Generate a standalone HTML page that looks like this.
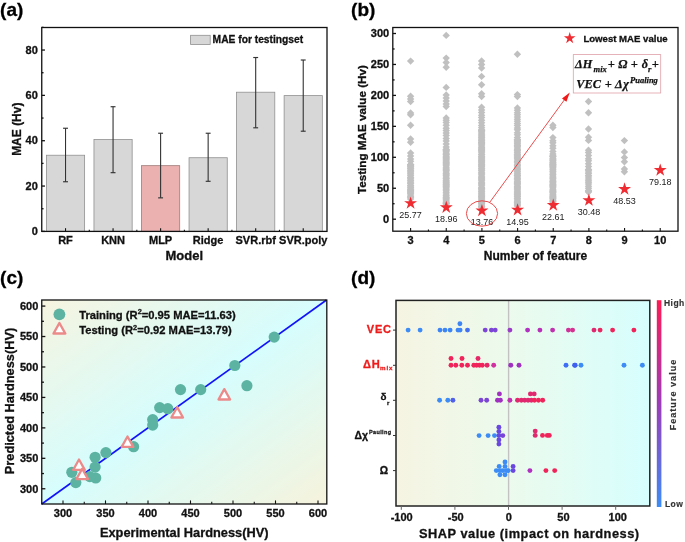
<!DOCTYPE html>
<html><head><meta charset="utf-8"><style>
html,body{margin:0;padding:0;background:#fff;}
svg{display:block;will-change:transform;}
</style></head><body>
<svg width="685" height="542" viewBox="0 0 685 542">
<rect width="685" height="542" fill="#fff"/>
<text x="0.1" y="283.5" font-size="19" text-anchor="start" font-weight="bold" fill="#000" stroke="#000" stroke-width="0.3" font-family='"Liberation Sans", sans-serif' >(c)</text>
<defs><linearGradient id="gc" x1="0" y1="0" x2="1" y2="1"><stop offset="0" stop-color="#f6f4e0"/><stop offset="0.5" stop-color="#d6fdfd"/><stop offset="1" stop-color="#f6f3dc"/></linearGradient><linearGradient id="gd" x1="0" y1="0" x2="1" y2="0"><stop offset="0" stop-color="#f6f4e2"/><stop offset="0.5" stop-color="#eafbee"/><stop offset="1" stop-color="#d6fefe"/></linearGradient><linearGradient id="cb" x1="0" y1="0" x2="0" y2="1"><stop offset="0" stop-color="#ff1a55"/><stop offset="0.5" stop-color="#9c3cb8"/><stop offset="1" stop-color="#3d8cf6"/></linearGradient></defs>
<rect x="41.75" y="300.0" width="285.05" height="204.0" fill="url(#gc)"/>
<line x1="41.75" y1="504.00" x2="326.50" y2="299.99" stroke="#1212fa" stroke-width="1.65"/>
<g fill="#5cb3a1">
<circle cx="274.2" cy="337.1" r="5.6"/>
<circle cx="234.8" cy="365.5" r="5.6"/>
<circle cx="246.9" cy="385.7" r="5.6"/>
<circle cx="200.7" cy="389.6" r="5.6"/>
<circle cx="180.5" cy="389.6" r="5.6"/>
<circle cx="159.7" cy="407.6" r="5.6"/>
<circle cx="167.8" cy="408.7" r="5.6"/>
<circle cx="152.7" cy="419.6" r="5.6"/>
<circle cx="152.7" cy="425.1" r="5.6"/>
<circle cx="133.6" cy="446.7" r="5.6"/>
<circle cx="105.9" cy="452.6" r="5.6"/>
<circle cx="95.1" cy="457.3" r="5.6"/>
<circle cx="95.1" cy="467.1" r="5.6"/>
<circle cx="95.7" cy="478" r="5.6"/>
<circle cx="89.8" cy="476.6" r="5.6"/>
<circle cx="71.8" cy="472.3" r="5.6"/>
<circle cx="75.8" cy="482.6" r="5.6"/>
</g>
<path d="M224.30 389.10 L230.10 399.50 L218.50 399.50 Z" fill="#fff" stroke="#ec8a8a" stroke-width="2.3" stroke-linejoin="round"/>
<path d="M177.20 407.10 L183.00 417.50 L171.40 417.50 Z" fill="#fff" stroke="#ec8a8a" stroke-width="2.3" stroke-linejoin="round"/>
<path d="M127.50 436.50 L133.30 446.90 L121.70 446.90 Z" fill="#fff" stroke="#ec8a8a" stroke-width="2.3" stroke-linejoin="round"/>
<path d="M79.00 459.50 L84.80 469.90 L73.20 469.90 Z" fill="#fff" stroke="#ec8a8a" stroke-width="2.3" stroke-linejoin="round"/>
<path d="M82.20 468.70 L88.00 479.10 L76.40 479.10 Z" fill="#fff" stroke="#ec8a8a" stroke-width="2.3" stroke-linejoin="round"/>
<circle cx="59.4" cy="314.3" r="5.9" fill="#5cb3a1"/>
<path d="M59.4 323.0 L65.3 333.5 L53.5 333.5 Z" fill="#fff" stroke="#ec8a8a" stroke-width="2.4" stroke-linejoin="round"/>
<text x="79.2" y="318.9" font-size="11.2" text-anchor="start" font-weight="bold" fill="#111" stroke="#111" stroke-width="0.3" font-family='"Liberation Sans", sans-serif' >Training (R<tspan font-size="7.4" dy="-4.6">2</tspan><tspan dy="4.6">=0.95 MAE=11.63)</tspan></text>
<text x="79.2" y="334.2" font-size="11.2" text-anchor="start" font-weight="bold" fill="#111" stroke="#111" stroke-width="0.3" font-family='"Liberation Sans", sans-serif' >Testing (R<tspan font-size="7.4" dy="-4.6">2</tspan><tspan dy="4.6">=0.92 MAE=13.79)</tspan></text>
<rect x="41.75" y="300.0" width="285.05" height="204.0" fill="none" stroke="#111" stroke-width="1.3"/>
<line x1="41.75" y1="488.77" x2="45.35" y2="488.77" stroke="#111" stroke-width="1.3"/>
<line x1="63.00" y1="504.0" x2="63.00" y2="500.4" stroke="#111" stroke-width="1.1"/>
<text x="38.3" y="492.67" font-size="11" text-anchor="end" font-weight="bold" fill="#111" stroke="#111" stroke-width="0.3" font-family='"Liberation Sans", sans-serif' >300</text>
<text x="63.00" y="517.0" font-size="11" text-anchor="middle" font-weight="bold" fill="#111" stroke="#111" stroke-width="0.3" font-family='"Liberation Sans", sans-serif' >300</text>
<line x1="41.75" y1="473.55" x2="43.95" y2="473.55" stroke="#111" stroke-width="1.3"/>
<line x1="84.25" y1="504.0" x2="84.25" y2="501.8" stroke="#111" stroke-width="1.1"/>
<line x1="41.75" y1="458.32" x2="45.35" y2="458.32" stroke="#111" stroke-width="1.3"/>
<line x1="105.50" y1="504.0" x2="105.50" y2="500.4" stroke="#111" stroke-width="1.1"/>
<text x="38.3" y="462.22" font-size="11" text-anchor="end" font-weight="bold" fill="#111" stroke="#111" stroke-width="0.3" font-family='"Liberation Sans", sans-serif' >350</text>
<text x="105.50" y="517.0" font-size="11" text-anchor="middle" font-weight="bold" fill="#111" stroke="#111" stroke-width="0.3" font-family='"Liberation Sans", sans-serif' >350</text>
<line x1="41.75" y1="443.10" x2="43.95" y2="443.10" stroke="#111" stroke-width="1.3"/>
<line x1="126.75" y1="504.0" x2="126.75" y2="501.8" stroke="#111" stroke-width="1.1"/>
<line x1="41.75" y1="427.88" x2="45.35" y2="427.88" stroke="#111" stroke-width="1.3"/>
<line x1="148.00" y1="504.0" x2="148.00" y2="500.4" stroke="#111" stroke-width="1.1"/>
<text x="38.3" y="431.77" font-size="11" text-anchor="end" font-weight="bold" fill="#111" stroke="#111" stroke-width="0.3" font-family='"Liberation Sans", sans-serif' >400</text>
<text x="148.00" y="517.0" font-size="11" text-anchor="middle" font-weight="bold" fill="#111" stroke="#111" stroke-width="0.3" font-family='"Liberation Sans", sans-serif' >400</text>
<line x1="41.75" y1="412.65" x2="43.95" y2="412.65" stroke="#111" stroke-width="1.3"/>
<line x1="169.25" y1="504.0" x2="169.25" y2="501.8" stroke="#111" stroke-width="1.1"/>
<line x1="41.75" y1="397.43" x2="45.35" y2="397.43" stroke="#111" stroke-width="1.3"/>
<line x1="190.50" y1="504.0" x2="190.50" y2="500.4" stroke="#111" stroke-width="1.1"/>
<text x="38.3" y="401.32" font-size="11" text-anchor="end" font-weight="bold" fill="#111" stroke="#111" stroke-width="0.3" font-family='"Liberation Sans", sans-serif' >450</text>
<text x="190.50" y="517.0" font-size="11" text-anchor="middle" font-weight="bold" fill="#111" stroke="#111" stroke-width="0.3" font-family='"Liberation Sans", sans-serif' >450</text>
<line x1="41.75" y1="382.20" x2="43.95" y2="382.20" stroke="#111" stroke-width="1.3"/>
<line x1="211.75" y1="504.0" x2="211.75" y2="501.8" stroke="#111" stroke-width="1.1"/>
<line x1="41.75" y1="366.98" x2="45.35" y2="366.98" stroke="#111" stroke-width="1.3"/>
<line x1="233.00" y1="504.0" x2="233.00" y2="500.4" stroke="#111" stroke-width="1.1"/>
<text x="38.3" y="370.88" font-size="11" text-anchor="end" font-weight="bold" fill="#111" stroke="#111" stroke-width="0.3" font-family='"Liberation Sans", sans-serif' >500</text>
<text x="233.00" y="517.0" font-size="11" text-anchor="middle" font-weight="bold" fill="#111" stroke="#111" stroke-width="0.3" font-family='"Liberation Sans", sans-serif' >500</text>
<line x1="41.75" y1="351.75" x2="43.95" y2="351.75" stroke="#111" stroke-width="1.3"/>
<line x1="254.25" y1="504.0" x2="254.25" y2="501.8" stroke="#111" stroke-width="1.1"/>
<line x1="41.75" y1="336.52" x2="45.35" y2="336.52" stroke="#111" stroke-width="1.3"/>
<line x1="275.50" y1="504.0" x2="275.50" y2="500.4" stroke="#111" stroke-width="1.1"/>
<text x="38.3" y="340.42" font-size="11" text-anchor="end" font-weight="bold" fill="#111" stroke="#111" stroke-width="0.3" font-family='"Liberation Sans", sans-serif' >550</text>
<text x="275.50" y="517.0" font-size="11" text-anchor="middle" font-weight="bold" fill="#111" stroke="#111" stroke-width="0.3" font-family='"Liberation Sans", sans-serif' >550</text>
<line x1="41.75" y1="321.30" x2="43.95" y2="321.30" stroke="#111" stroke-width="1.3"/>
<line x1="296.75" y1="504.0" x2="296.75" y2="501.8" stroke="#111" stroke-width="1.1"/>
<line x1="41.75" y1="306.08" x2="45.35" y2="306.08" stroke="#111" stroke-width="1.3"/>
<line x1="318.00" y1="504.0" x2="318.00" y2="500.4" stroke="#111" stroke-width="1.1"/>
<text x="38.3" y="309.98" font-size="11" text-anchor="end" font-weight="bold" fill="#111" stroke="#111" stroke-width="0.3" font-family='"Liberation Sans", sans-serif' >600</text>
<text x="318.00" y="517.0" font-size="11" text-anchor="middle" font-weight="bold" fill="#111" stroke="#111" stroke-width="0.3" font-family='"Liberation Sans", sans-serif' >600</text>
<text x="184.2" y="537.4" font-size="12.8" text-anchor="middle" font-weight="bold" fill="#111" stroke="#111" stroke-width="0.3" font-family='"Liberation Sans", sans-serif' >Experimental Hardness(HV)</text>
<text x="0" y="0" font-size="12.8" text-anchor="middle" font-weight="bold" fill="#111" stroke="#111" stroke-width="0.3" font-family='"Liberation Sans", sans-serif' transform="translate(14,401) rotate(-90)">Predicted Hardness(HV)</text>
<text x="0.1" y="15.5" font-size="19" text-anchor="start" font-weight="bold" fill="#000" stroke="#000" stroke-width="0.3" font-family='"Liberation Sans", sans-serif' >(a)</text>
<rect x="46.42" y="155.23" width="38.2" height="76.17" fill="#d7d7d7" stroke="#909090" stroke-width="0.8"/>
<line x1="65.52" y1="128.25" x2="65.52" y2="181.75" stroke="#333" stroke-width="1.1"/>
<line x1="63.07" y1="181.75" x2="67.97" y2="181.75" stroke="#333" stroke-width="1.15"/>
<line x1="63.07" y1="128.25" x2="67.97" y2="128.25" stroke="#333" stroke-width="1.15"/>
<text x="65.52" y="244.2" font-size="11" text-anchor="middle" font-weight="bold" fill="#111" stroke="#111" stroke-width="0.3" font-family='"Liberation Sans", sans-serif' >RF</text>
<rect x="93.96" y="139.59" width="38.2" height="91.81" fill="#d7d7d7" stroke="#909090" stroke-width="0.8"/>
<line x1="113.06" y1="106.72" x2="113.06" y2="172.68" stroke="#333" stroke-width="1.1"/>
<line x1="110.61" y1="172.68" x2="115.51" y2="172.68" stroke="#333" stroke-width="1.15"/>
<line x1="110.61" y1="106.72" x2="115.51" y2="106.72" stroke="#333" stroke-width="1.15"/>
<text x="113.06" y="244.2" font-size="11" text-anchor="middle" font-weight="bold" fill="#111" stroke="#111" stroke-width="0.3" font-family='"Liberation Sans", sans-serif' >KNN</text>
<rect x="141.50" y="165.66" width="38.2" height="65.74" fill="#ebb1b1" stroke="#a07a7a" stroke-width="0.8"/>
<line x1="160.60" y1="133.24" x2="160.60" y2="197.85" stroke="#333" stroke-width="1.1"/>
<line x1="158.15" y1="197.85" x2="163.05" y2="197.85" stroke="#333" stroke-width="1.15"/>
<line x1="158.15" y1="133.24" x2="163.05" y2="133.24" stroke="#333" stroke-width="1.15"/>
<text x="160.60" y="244.2" font-size="11" text-anchor="middle" font-weight="bold" fill="#111" stroke="#111" stroke-width="0.3" font-family='"Liberation Sans", sans-serif' >MLP</text>
<rect x="189.05" y="157.72" width="38.2" height="73.68" fill="#d7d7d7" stroke="#909090" stroke-width="0.8"/>
<line x1="208.15" y1="133.24" x2="208.15" y2="181.30" stroke="#333" stroke-width="1.1"/>
<line x1="205.70" y1="181.30" x2="210.60" y2="181.30" stroke="#333" stroke-width="1.15"/>
<line x1="205.70" y1="133.24" x2="210.60" y2="133.24" stroke="#333" stroke-width="1.15"/>
<text x="208.15" y="244.2" font-size="11" text-anchor="middle" font-weight="bold" fill="#111" stroke="#111" stroke-width="0.3" font-family='"Liberation Sans", sans-serif' >Ridge</text>
<rect x="236.59" y="92.21" width="38.2" height="139.19" fill="#d7d7d7" stroke="#909090" stroke-width="0.8"/>
<line x1="255.69" y1="57.52" x2="255.69" y2="127.80" stroke="#333" stroke-width="1.1"/>
<line x1="253.24" y1="127.80" x2="258.14" y2="127.80" stroke="#333" stroke-width="1.15"/>
<line x1="253.24" y1="57.52" x2="258.14" y2="57.52" stroke="#333" stroke-width="1.15"/>
<text x="255.69" y="244.2" font-size="11" text-anchor="middle" font-weight="bold" fill="#111" stroke="#111" stroke-width="0.3" font-family='"Liberation Sans", sans-serif' >SVR.rbf</text>
<rect x="284.13" y="95.61" width="38.2" height="135.79" fill="#d7d7d7" stroke="#909090" stroke-width="0.8"/>
<line x1="303.23" y1="60.01" x2="303.23" y2="131.20" stroke="#333" stroke-width="1.1"/>
<line x1="300.78" y1="131.20" x2="305.68" y2="131.20" stroke="#333" stroke-width="1.15"/>
<line x1="300.78" y1="60.01" x2="305.68" y2="60.01" stroke="#333" stroke-width="1.15"/>
<text x="303.23" y="244.2" font-size="11" text-anchor="middle" font-weight="bold" fill="#111" stroke="#111" stroke-width="0.3" font-family='"Liberation Sans", sans-serif' >SVR.poly</text>
<rect x="41.75" y="27.5" width="285.25" height="203.9" fill="none" stroke="#111" stroke-width="1.3"/>
<line x1="41.75" y1="231.40" x2="44.95" y2="231.40" stroke="#111" stroke-width="1.3"/>
<text x="37.8" y="235.00" font-size="11" text-anchor="end" font-weight="bold" fill="#111" stroke="#111" stroke-width="0.3" font-family='"Liberation Sans", sans-serif' >0</text>
<line x1="41.75" y1="208.73" x2="43.55" y2="208.73" stroke="#111" stroke-width="1.3"/>
<line x1="41.75" y1="186.06" x2="44.95" y2="186.06" stroke="#111" stroke-width="1.3"/>
<text x="37.8" y="189.66" font-size="11" text-anchor="end" font-weight="bold" fill="#111" stroke="#111" stroke-width="0.3" font-family='"Liberation Sans", sans-serif' >20</text>
<line x1="41.75" y1="163.39" x2="43.55" y2="163.39" stroke="#111" stroke-width="1.3"/>
<line x1="41.75" y1="140.72" x2="44.95" y2="140.72" stroke="#111" stroke-width="1.3"/>
<text x="37.8" y="144.32" font-size="11" text-anchor="end" font-weight="bold" fill="#111" stroke="#111" stroke-width="0.3" font-family='"Liberation Sans", sans-serif' >40</text>
<line x1="41.75" y1="118.05" x2="43.55" y2="118.05" stroke="#111" stroke-width="1.3"/>
<line x1="41.75" y1="95.38" x2="44.95" y2="95.38" stroke="#111" stroke-width="1.3"/>
<text x="37.8" y="98.98" font-size="11" text-anchor="end" font-weight="bold" fill="#111" stroke="#111" stroke-width="0.3" font-family='"Liberation Sans", sans-serif' >60</text>
<line x1="41.75" y1="72.71" x2="43.55" y2="72.71" stroke="#111" stroke-width="1.3"/>
<line x1="41.75" y1="50.04" x2="44.95" y2="50.04" stroke="#111" stroke-width="1.3"/>
<text x="37.8" y="53.64" font-size="11" text-anchor="end" font-weight="bold" fill="#111" stroke="#111" stroke-width="0.3" font-family='"Liberation Sans", sans-serif' >80</text>
<line x1="41.75" y1="27.37" x2="43.55" y2="27.37" stroke="#111" stroke-width="1.3"/>
<line x1="89.29" y1="231.4" x2="89.29" y2="229.8" stroke="#111" stroke-width="1.1"/>
<line x1="136.83" y1="231.4" x2="136.83" y2="229.8" stroke="#111" stroke-width="1.1"/>
<line x1="184.38" y1="231.4" x2="184.38" y2="229.8" stroke="#111" stroke-width="1.1"/>
<line x1="231.92" y1="231.4" x2="231.92" y2="229.8" stroke="#111" stroke-width="1.1"/>
<line x1="279.46" y1="231.4" x2="279.46" y2="229.8" stroke="#111" stroke-width="1.1"/>
<line x1="65.52" y1="231.4" x2="65.52" y2="228.20000000000002" stroke="#111" stroke-width="1.1"/>
<line x1="113.06" y1="231.4" x2="113.06" y2="228.20000000000002" stroke="#111" stroke-width="1.1"/>
<line x1="160.60" y1="231.4" x2="160.60" y2="228.20000000000002" stroke="#111" stroke-width="1.1"/>
<line x1="208.15" y1="231.4" x2="208.15" y2="228.20000000000002" stroke="#111" stroke-width="1.1"/>
<line x1="255.69" y1="231.4" x2="255.69" y2="228.20000000000002" stroke="#111" stroke-width="1.1"/>
<line x1="303.23" y1="231.4" x2="303.23" y2="228.20000000000002" stroke="#111" stroke-width="1.1"/>
<rect x="190.6" y="35.3" width="19.6" height="9.2" fill="#d7d7d7" stroke="#909090" stroke-width="0.8"/>
<text x="212.6" y="43.4" font-size="10.25" text-anchor="start" font-weight="bold" fill="#111" stroke="#111" stroke-width="0.3" font-family='"Liberation Sans", sans-serif' >MAE for testingset</text>
<text x="184.25" y="260" font-size="13" text-anchor="middle" font-weight="bold" fill="#111" stroke="#111" stroke-width="0.3" font-family='"Liberation Sans", sans-serif' >Model</text>
<text x="0" y="0" font-size="12" text-anchor="middle" font-weight="bold" fill="#111" stroke="#111" stroke-width="0.3" font-family='"Liberation Sans", sans-serif' transform="translate(20.9,129.2) rotate(-90)">MAE (Hv)</text>
<text x="351.1" y="15.5" font-size="19" text-anchor="start" font-weight="bold" fill="#000" stroke="#000" stroke-width="0.3" font-family='"Liberation Sans", sans-serif' >(b)</text>
<g fill="#c0c0c0">
<path d="M410.60 57.40L414.30 61.10L410.60 64.80L406.90 61.10Z"/>
<path d="M410.60 92.60L414.30 96.30L410.60 100.00L406.90 96.30Z"/>
<path d="M410.60 95.30L414.30 99.00L410.60 102.70L406.90 99.00Z"/>
<path d="M410.60 97.80L414.30 101.50L410.60 105.20L406.90 101.50Z"/>
<path d="M410.60 109.20L414.30 112.90L410.60 116.60L406.90 112.90Z"/>
<path d="M410.60 111.10L414.30 114.80L410.60 118.50L406.90 114.80Z"/>
<path d="M410.60 121.50L414.30 125.20L410.60 128.90L406.90 125.20Z"/>
<path d="M410.60 135.30L414.30 139.00L410.60 142.70L406.90 139.00Z"/>
<path d="M410.60 138.50L414.30 142.20L410.60 145.90L406.90 142.20Z"/>
<path d="M410.60 149.30L414.30 153.00L410.60 156.70L406.90 153.00Z"/>
<path d="M410.60 152.21L414.30 155.91L410.60 159.61L406.90 155.91Z"/>
<path d="M410.60 155.25L414.30 158.95L410.60 162.65L406.90 158.95Z"/>
<path d="M410.60 157.63L414.30 161.33L410.60 165.03L406.90 161.33Z"/>
<path d="M410.60 160.83L414.30 164.53L410.60 168.23L406.90 164.53Z"/>
<path d="M410.60 161.30L414.30 165.00L410.60 168.70L406.90 165.00Z"/>
<path d="M410.60 161.30L414.30 165.00L410.60 168.70L406.90 165.00Z"/>
<path d="M410.60 162.57L414.30 166.27L410.60 169.97L406.90 166.27Z"/>
<path d="M410.60 163.26L414.30 166.96L410.60 170.66L406.90 166.96Z"/>
<path d="M410.60 164.62L414.30 168.32L410.60 172.02L406.90 168.32Z"/>
<path d="M410.60 165.37L414.30 169.07L410.60 172.77L406.90 169.07Z"/>
<path d="M410.60 166.68L414.30 170.38L410.60 174.08L406.90 170.38Z"/>
<path d="M410.60 168.00L414.30 171.70L410.60 175.40L406.90 171.70Z"/>
<path d="M410.60 169.37L414.30 173.07L410.60 176.77L406.90 173.07Z"/>
<path d="M410.60 170.41L414.30 174.11L410.60 177.81L406.90 174.11Z"/>
<path d="M410.60 171.88L414.30 175.58L410.60 179.28L406.90 175.58Z"/>
<path d="M410.60 173.46L414.30 177.16L410.60 180.86L406.90 177.16Z"/>
<path d="M410.60 174.18L414.30 177.88L410.60 181.58L406.90 177.88Z"/>
<path d="M410.60 175.30L414.30 179.00L410.60 182.70L406.90 179.00Z"/>
<path d="M410.60 176.85L414.30 180.55L410.60 184.25L406.90 180.55Z"/>
<path d="M410.60 178.19L414.30 181.89L410.60 185.59L406.90 181.89Z"/>
<path d="M410.60 179.24L414.30 182.94L410.60 186.64L406.90 182.94Z"/>
<path d="M410.60 180.14L414.30 183.84L410.60 187.54L406.90 183.84Z"/>
<path d="M410.60 181.70L414.30 185.40L410.60 189.10L406.90 185.40Z"/>
<path d="M410.60 182.38L414.30 186.08L410.60 189.78L406.90 186.08Z"/>
<path d="M410.60 183.74L414.30 187.44L410.60 191.14L406.90 187.44Z"/>
<path d="M410.60 185.18L414.30 188.88L410.60 192.58L406.90 188.88Z"/>
<path d="M410.60 185.94L414.30 189.64L410.60 193.34L406.90 189.64Z"/>
<path d="M410.60 186.87L414.30 190.57L410.60 194.27L406.90 190.57Z"/>
<path d="M410.60 187.77L414.30 191.47L410.60 195.17L406.90 191.47Z"/>
<path d="M410.60 188.92L414.30 192.62L410.60 196.32L406.90 192.62Z"/>
<path d="M410.60 189.88L414.30 193.58L410.60 197.28L406.90 193.58Z"/>
<path d="M410.60 191.38L414.30 195.08L410.60 198.78L406.90 195.08Z"/>
<path d="M410.60 192.90L414.30 196.60L410.60 200.30L406.90 196.60Z"/>
<path d="M410.60 193.82L414.30 197.52L410.60 201.22L406.90 197.52Z"/>
<path d="M410.60 195.30L414.30 199.00L410.60 202.70L406.90 199.00Z"/>
<path d="M446.20 31.70L449.90 35.40L446.20 39.10L442.50 35.40Z"/>
<path d="M446.20 54.40L449.90 58.10L446.20 61.80L442.50 58.10Z"/>
<path d="M446.20 58.80L449.90 62.50L446.20 66.20L442.50 62.50Z"/>
<path d="M446.20 63.50L449.90 67.20L446.20 70.90L442.50 67.20Z"/>
<path d="M446.20 83.70L449.90 87.40L446.20 91.10L442.50 87.40Z"/>
<path d="M446.20 91.30L449.90 95.00L446.20 98.70L442.50 95.00Z"/>
<path d="M446.20 94.30L449.90 98.00L446.20 101.70L442.50 98.00Z"/>
<path d="M446.20 97.30L449.90 101.00L446.20 104.70L442.50 101.00Z"/>
<path d="M446.20 100.30L449.90 104.00L446.20 107.70L442.50 104.00Z"/>
<path d="M446.20 102.80L449.90 106.50L446.20 110.20L442.50 106.50Z"/>
<path d="M446.20 114.30L449.90 118.00L446.20 121.70L442.50 118.00Z"/>
<path d="M446.20 116.51L449.90 120.21L446.20 123.91L442.50 120.21Z"/>
<path d="M446.20 118.85L449.90 122.55L446.20 126.25L442.50 122.55Z"/>
<path d="M446.20 121.52L449.90 125.22L446.20 128.92L442.50 125.22Z"/>
<path d="M446.20 124.54L449.90 128.24L446.20 131.94L442.50 128.24Z"/>
<path d="M446.20 126.91L449.90 130.61L446.20 134.31L442.50 130.61Z"/>
<path d="M446.20 129.24L449.90 132.94L446.20 136.64L442.50 132.94Z"/>
<path d="M446.20 131.72L449.90 135.42L446.20 139.12L442.50 135.42Z"/>
<path d="M446.20 134.83L449.90 138.53L446.20 142.23L442.50 138.53Z"/>
<path d="M446.20 137.21L449.90 140.91L446.20 144.61L442.50 140.91Z"/>
<path d="M446.20 140.30L449.90 144.00L446.20 147.70L442.50 144.00Z"/>
<path d="M446.20 143.29L449.90 146.99L446.20 150.69L442.50 146.99Z"/>
<path d="M446.20 145.65L449.90 149.35L446.20 153.05L442.50 149.35Z"/>
<path d="M446.20 146.30L449.90 150.00L446.20 153.70L442.50 150.00Z"/>
<path d="M446.20 146.30L449.90 150.00L446.20 153.70L442.50 150.00Z"/>
<path d="M446.20 147.35L449.90 151.05L446.20 154.75L442.50 151.05Z"/>
<path d="M446.20 148.36L449.90 152.06L446.20 155.76L442.50 152.06Z"/>
<path d="M446.20 149.96L449.90 153.66L446.20 157.36L442.50 153.66Z"/>
<path d="M446.20 150.65L449.90 154.35L446.20 158.05L442.50 154.35Z"/>
<path d="M446.20 151.27L449.90 154.97L446.20 158.67L442.50 154.97Z"/>
<path d="M446.20 152.81L449.90 156.51L446.20 160.21L442.50 156.51Z"/>
<path d="M446.20 153.81L449.90 157.51L446.20 161.21L442.50 157.51Z"/>
<path d="M446.20 154.61L449.90 158.31L446.20 162.01L442.50 158.31Z"/>
<path d="M446.20 155.54L449.90 159.24L446.20 162.94L442.50 159.24Z"/>
<path d="M446.20 156.51L449.90 160.21L446.20 163.91L442.50 160.21Z"/>
<path d="M446.20 158.06L449.90 161.76L446.20 165.46L442.50 161.76Z"/>
<path d="M446.20 158.87L449.90 162.57L446.20 166.27L442.50 162.57Z"/>
<path d="M446.20 159.69L449.90 163.39L446.20 167.09L442.50 163.39Z"/>
<path d="M446.20 160.87L449.90 164.57L446.20 168.27L442.50 164.57Z"/>
<path d="M446.20 162.02L449.90 165.72L446.20 169.42L442.50 165.72Z"/>
<path d="M446.20 163.57L449.90 167.27L446.20 170.97L442.50 167.27Z"/>
<path d="M446.20 165.01L449.90 168.71L446.20 172.41L442.50 168.71Z"/>
<path d="M446.20 165.97L449.90 169.67L446.20 173.37L442.50 169.67Z"/>
<path d="M446.20 166.77L449.90 170.47L446.20 174.17L442.50 170.47Z"/>
<path d="M446.20 168.21L449.90 171.91L446.20 175.61L442.50 171.91Z"/>
<path d="M446.20 169.80L449.90 173.50L446.20 177.20L442.50 173.50Z"/>
<path d="M446.20 170.43L449.90 174.13L446.20 177.83L442.50 174.13Z"/>
<path d="M446.20 171.76L449.90 175.46L446.20 179.16L442.50 175.46Z"/>
<path d="M446.20 173.23L449.90 176.93L446.20 180.63L442.50 176.93Z"/>
<path d="M446.20 174.48L449.90 178.18L446.20 181.88L442.50 178.18Z"/>
<path d="M446.20 175.30L449.90 179.00L446.20 182.70L442.50 179.00Z"/>
<path d="M446.20 176.70L449.90 180.40L446.20 184.10L442.50 180.40Z"/>
<path d="M446.20 178.03L449.90 181.73L446.20 185.43L442.50 181.73Z"/>
<path d="M446.20 178.82L449.90 182.52L446.20 186.22L442.50 182.52Z"/>
<path d="M446.20 180.06L449.90 183.76L446.20 187.46L442.50 183.76Z"/>
<path d="M446.20 180.88L449.90 184.58L446.20 188.28L442.50 184.58Z"/>
<path d="M446.20 181.52L449.90 185.22L446.20 188.92L442.50 185.22Z"/>
<path d="M446.20 182.46L449.90 186.16L446.20 189.86L442.50 186.16Z"/>
<path d="M446.20 183.39L449.90 187.09L446.20 190.79L442.50 187.09Z"/>
<path d="M446.20 184.39L449.90 188.09L446.20 191.79L442.50 188.09Z"/>
<path d="M446.20 185.64L449.90 189.34L446.20 193.04L442.50 189.34Z"/>
<path d="M446.20 187.07L449.90 190.77L446.20 194.47L442.50 190.77Z"/>
<path d="M446.20 188.63L449.90 192.33L446.20 196.03L442.50 192.33Z"/>
<path d="M446.20 190.21L449.90 193.91L446.20 197.61L442.50 193.91Z"/>
<path d="M446.20 191.80L449.90 195.50L446.20 199.20L442.50 195.50Z"/>
<path d="M446.20 193.19L449.90 196.89L446.20 200.59L442.50 196.89Z"/>
<path d="M446.20 194.10L449.90 197.80L446.20 201.50L442.50 197.80Z"/>
<path d="M446.20 194.88L449.90 198.58L446.20 202.28L442.50 198.58Z"/>
<path d="M446.20 196.10L449.90 199.80L446.20 203.50L442.50 199.80Z"/>
<path d="M446.20 197.25L449.90 200.95L446.20 204.65L442.50 200.95Z"/>
<path d="M446.20 198.52L449.90 202.22L446.20 205.92L442.50 202.22Z"/>
<path d="M446.20 199.21L449.90 202.91L446.20 206.61L442.50 202.91Z"/>
<path d="M446.20 200.01L449.90 203.71L446.20 207.41L442.50 203.71Z"/>
<path d="M446.20 200.30L449.90 204.00L446.20 207.70L442.50 204.00Z"/>
<path d="M481.60 57.30L485.30 61.00L481.60 64.70L477.90 61.00Z"/>
<path d="M481.60 60.80L485.30 64.50L481.60 68.20L477.90 64.50Z"/>
<path d="M481.60 64.30L485.30 68.00L481.60 71.70L477.90 68.00Z"/>
<path d="M481.60 72.70L485.30 76.40L481.60 80.10L477.90 76.40Z"/>
<path d="M481.60 81.00L485.30 84.70L481.60 88.40L477.90 84.70Z"/>
<path d="M481.60 90.00L485.30 93.70L481.60 97.40L477.90 93.70Z"/>
<path d="M481.60 92.80L485.30 96.50L481.60 100.20L477.90 96.50Z"/>
<path d="M481.60 103.50L485.30 107.20L481.60 110.90L477.90 107.20Z"/>
<path d="M481.60 106.27L485.30 109.97L481.60 113.67L477.90 109.97Z"/>
<path d="M481.60 108.78L485.30 112.48L481.60 116.18L477.90 112.48Z"/>
<path d="M481.60 111.65L485.30 115.35L481.60 119.05L477.90 115.35Z"/>
<path d="M481.60 113.73L485.30 117.43L481.60 121.13L477.90 117.43Z"/>
<path d="M481.60 116.57L485.30 120.27L481.60 123.97L477.90 120.27Z"/>
<path d="M481.60 119.02L485.30 122.72L481.60 126.42L477.90 122.72Z"/>
<path d="M481.60 121.75L485.30 125.45L481.60 129.15L477.90 125.45Z"/>
<path d="M481.60 123.95L485.30 127.65L481.60 131.35L477.90 127.65Z"/>
<path d="M481.60 126.30L485.30 130.00L481.60 133.70L477.90 130.00Z"/>
<path d="M481.60 126.30L485.30 130.00L481.60 133.70L477.90 130.00Z"/>
<path d="M481.60 127.17L485.30 130.87L481.60 134.57L477.90 130.87Z"/>
<path d="M481.60 128.10L485.30 131.80L481.60 135.50L477.90 131.80Z"/>
<path d="M481.60 129.42L485.30 133.12L481.60 136.82L477.90 133.12Z"/>
<path d="M481.60 130.50L485.30 134.20L481.60 137.90L477.90 134.20Z"/>
<path d="M481.60 132.06L485.30 135.76L481.60 139.46L477.90 135.76Z"/>
<path d="M481.60 133.24L485.30 136.94L481.60 140.64L477.90 136.94Z"/>
<path d="M481.60 134.07L485.30 137.77L481.60 141.47L477.90 137.77Z"/>
<path d="M481.60 135.28L485.30 138.98L481.60 142.68L477.90 138.98Z"/>
<path d="M481.60 136.41L485.30 140.11L481.60 143.81L477.90 140.11Z"/>
<path d="M481.60 137.15L485.30 140.85L481.60 144.55L477.90 140.85Z"/>
<path d="M481.60 138.27L485.30 141.97L481.60 145.67L477.90 141.97Z"/>
<path d="M481.60 138.89L485.30 142.59L481.60 146.29L477.90 142.59Z"/>
<path d="M481.60 139.86L485.30 143.56L481.60 147.26L477.90 143.56Z"/>
<path d="M481.60 141.00L485.30 144.70L481.60 148.40L477.90 144.70Z"/>
<path d="M481.60 142.28L485.30 145.98L481.60 149.68L477.90 145.98Z"/>
<path d="M481.60 143.84L485.30 147.54L481.60 151.24L477.90 147.54Z"/>
<path d="M481.60 145.06L485.30 148.76L481.60 152.46L477.90 148.76Z"/>
<path d="M481.60 145.68L485.30 149.38L481.60 153.08L477.90 149.38Z"/>
<path d="M481.60 146.76L485.30 150.46L481.60 154.16L477.90 150.46Z"/>
<path d="M481.60 147.61L485.30 151.31L481.60 155.01L477.90 151.31Z"/>
<path d="M481.60 148.95L485.30 152.65L481.60 156.35L477.90 152.65Z"/>
<path d="M481.60 150.45L485.30 154.15L481.60 157.85L477.90 154.15Z"/>
<path d="M481.60 151.13L485.30 154.83L481.60 158.53L477.90 154.83Z"/>
<path d="M481.60 152.51L485.30 156.21L481.60 159.91L477.90 156.21Z"/>
<path d="M481.60 153.40L485.30 157.10L481.60 160.80L477.90 157.10Z"/>
<path d="M481.60 154.18L485.30 157.88L481.60 161.58L477.90 157.88Z"/>
<path d="M481.60 155.24L485.30 158.94L481.60 162.64L477.90 158.94Z"/>
<path d="M481.60 156.25L485.30 159.95L481.60 163.65L477.90 159.95Z"/>
<path d="M481.60 157.14L485.30 160.84L481.60 164.54L477.90 160.84Z"/>
<path d="M481.60 158.01L485.30 161.71L481.60 165.41L477.90 161.71Z"/>
<path d="M481.60 159.04L485.30 162.74L481.60 166.44L477.90 162.74Z"/>
<path d="M481.60 160.33L485.30 164.03L481.60 167.73L477.90 164.03Z"/>
<path d="M481.60 161.09L485.30 164.79L481.60 168.49L477.90 164.79Z"/>
<path d="M481.60 162.07L485.30 165.77L481.60 169.47L477.90 165.77Z"/>
<path d="M481.60 162.90L485.30 166.60L481.60 170.30L477.90 166.60Z"/>
<path d="M481.60 164.23L485.30 167.93L481.60 171.63L477.90 167.93Z"/>
<path d="M481.60 165.08L485.30 168.78L481.60 172.48L477.90 168.78Z"/>
<path d="M481.60 166.42L485.30 170.12L481.60 173.82L477.90 170.12Z"/>
<path d="M481.60 167.05L485.30 170.75L481.60 174.45L477.90 170.75Z"/>
<path d="M481.60 168.51L485.30 172.21L481.60 175.91L477.90 172.21Z"/>
<path d="M481.60 169.53L485.30 173.23L481.60 176.93L477.90 173.23Z"/>
<path d="M481.60 171.07L485.30 174.77L481.60 178.47L477.90 174.77Z"/>
<path d="M481.60 172.46L485.30 176.16L481.60 179.86L477.90 176.16Z"/>
<path d="M481.60 173.91L485.30 177.61L481.60 181.31L477.90 177.61Z"/>
<path d="M481.60 174.54L485.30 178.24L481.60 181.94L477.90 178.24Z"/>
<path d="M481.60 175.88L485.30 179.58L481.60 183.28L477.90 179.58Z"/>
<path d="M481.60 177.01L485.30 180.71L481.60 184.41L477.90 180.71Z"/>
<path d="M481.60 178.50L485.30 182.20L481.60 185.90L477.90 182.20Z"/>
<path d="M481.60 179.66L485.30 183.36L481.60 187.06L477.90 183.36Z"/>
<path d="M481.60 180.61L485.30 184.31L481.60 188.01L477.90 184.31Z"/>
<path d="M481.60 182.11L485.30 185.81L481.60 189.51L477.90 185.81Z"/>
<path d="M481.60 183.71L485.30 187.41L481.60 191.11L477.90 187.41Z"/>
<path d="M481.60 184.53L485.30 188.23L481.60 191.93L477.90 188.23Z"/>
<path d="M481.60 185.28L485.30 188.98L481.60 192.68L477.90 188.98Z"/>
<path d="M481.60 186.32L485.30 190.02L481.60 193.72L477.90 190.02Z"/>
<path d="M481.60 187.58L485.30 191.28L481.60 194.98L477.90 191.28Z"/>
<path d="M481.60 188.34L485.30 192.04L481.60 195.74L477.90 192.04Z"/>
<path d="M481.60 189.52L485.30 193.22L481.60 196.92L477.90 193.22Z"/>
<path d="M481.60 190.67L485.30 194.37L481.60 198.07L477.90 194.37Z"/>
<path d="M481.60 192.06L485.30 195.76L481.60 199.46L477.90 195.76Z"/>
<path d="M481.60 192.81L485.30 196.51L481.60 200.21L477.90 196.51Z"/>
<path d="M481.60 193.55L485.30 197.25L481.60 200.95L477.90 197.25Z"/>
<path d="M481.60 194.67L485.30 198.37L481.60 202.07L477.90 198.37Z"/>
<path d="M481.60 196.02L485.30 199.72L481.60 203.42L477.90 199.72Z"/>
<path d="M481.60 197.21L485.30 200.91L481.60 204.61L477.90 200.91Z"/>
<path d="M481.60 198.55L485.30 202.25L481.60 205.95L477.90 202.25Z"/>
<path d="M481.60 199.41L485.30 203.11L481.60 206.81L477.90 203.11Z"/>
<path d="M481.60 200.05L485.30 203.75L481.60 207.45L477.90 203.75Z"/>
<path d="M481.60 201.34L485.30 205.04L481.60 208.74L477.90 205.04Z"/>
<path d="M481.60 202.58L485.30 206.28L481.60 209.98L477.90 206.28Z"/>
<path d="M481.60 203.21L485.30 206.91L481.60 210.61L477.90 206.91Z"/>
<path d="M481.60 203.30L485.30 207.00L481.60 210.70L477.90 207.00Z"/>
<path d="M517.40 50.50L521.10 54.20L517.40 57.90L513.70 54.20Z"/>
<path d="M517.40 90.90L521.10 94.60L517.40 98.30L513.70 94.60Z"/>
<path d="M517.40 92.80L521.10 96.50L517.40 100.20L513.70 96.50Z"/>
<path d="M517.40 104.20L521.10 107.90L517.40 111.60L513.70 107.90Z"/>
<path d="M517.40 106.47L521.10 110.17L517.40 113.87L513.70 110.17Z"/>
<path d="M517.40 108.96L521.10 112.66L517.40 116.36L513.70 112.66Z"/>
<path d="M517.40 111.04L521.10 114.74L517.40 118.44L513.70 114.74Z"/>
<path d="M517.40 113.38L521.10 117.08L517.40 120.78L513.70 117.08Z"/>
<path d="M517.40 115.45L521.10 119.15L517.40 122.85L513.70 119.15Z"/>
<path d="M517.40 117.46L521.10 121.16L517.40 124.86L513.70 121.16Z"/>
<path d="M517.40 119.75L521.10 123.45L517.40 127.15L513.70 123.45Z"/>
<path d="M517.40 121.87L521.10 125.57L517.40 129.27L513.70 125.57Z"/>
<path d="M517.40 124.18L521.10 127.88L517.40 131.58L513.70 127.88Z"/>
<path d="M517.40 126.10L521.10 129.80L517.40 133.50L513.70 129.80Z"/>
<path d="M517.40 129.10L521.10 132.80L517.40 136.50L513.70 132.80Z"/>
<path d="M517.40 131.14L521.10 134.84L517.40 138.54L513.70 134.84Z"/>
<path d="M517.40 133.76L521.10 137.46L517.40 141.16L513.70 137.46Z"/>
<path d="M517.40 135.90L521.10 139.60L517.40 143.30L513.70 139.60Z"/>
<path d="M517.40 136.30L521.10 140.00L517.40 143.70L513.70 140.00Z"/>
<path d="M517.40 136.30L521.10 140.00L517.40 143.70L513.70 140.00Z"/>
<path d="M517.40 137.64L521.10 141.34L517.40 145.04L513.70 141.34Z"/>
<path d="M517.40 138.45L521.10 142.15L517.40 145.85L513.70 142.15Z"/>
<path d="M517.40 139.90L521.10 143.60L517.40 147.30L513.70 143.60Z"/>
<path d="M517.40 141.21L521.10 144.91L517.40 148.61L513.70 144.91Z"/>
<path d="M517.40 141.89L521.10 145.59L517.40 149.29L513.70 145.59Z"/>
<path d="M517.40 142.90L521.10 146.60L517.40 150.30L513.70 146.60Z"/>
<path d="M517.40 144.20L521.10 147.90L517.40 151.60L513.70 147.90Z"/>
<path d="M517.40 145.72L521.10 149.42L517.40 153.12L513.70 149.42Z"/>
<path d="M517.40 146.49L521.10 150.19L517.40 153.89L513.70 150.19Z"/>
<path d="M517.40 147.34L521.10 151.04L517.40 154.74L513.70 151.04Z"/>
<path d="M517.40 148.72L521.10 152.42L517.40 156.12L513.70 152.42Z"/>
<path d="M517.40 150.28L521.10 153.98L517.40 157.68L513.70 153.98Z"/>
<path d="M517.40 150.98L521.10 154.68L517.40 158.38L513.70 154.68Z"/>
<path d="M517.40 151.67L521.10 155.37L517.40 159.07L513.70 155.37Z"/>
<path d="M517.40 153.02L521.10 156.72L517.40 160.42L513.70 156.72Z"/>
<path d="M517.40 153.93L521.10 157.63L517.40 161.33L513.70 157.63Z"/>
<path d="M517.40 154.92L521.10 158.62L517.40 162.32L513.70 158.62Z"/>
<path d="M517.40 156.40L521.10 160.10L517.40 163.80L513.70 160.10Z"/>
<path d="M517.40 157.74L521.10 161.44L517.40 165.14L513.70 161.44Z"/>
<path d="M517.40 159.00L521.10 162.70L517.40 166.40L513.70 162.70Z"/>
<path d="M517.40 160.47L521.10 164.17L517.40 167.87L513.70 164.17Z"/>
<path d="M517.40 161.80L521.10 165.50L517.40 169.20L513.70 165.50Z"/>
<path d="M517.40 163.21L521.10 166.91L517.40 170.61L513.70 166.91Z"/>
<path d="M517.40 164.46L521.10 168.16L517.40 171.86L513.70 168.16Z"/>
<path d="M517.40 165.65L521.10 169.35L517.40 173.05L513.70 169.35Z"/>
<path d="M517.40 166.31L521.10 170.01L517.40 173.71L513.70 170.01Z"/>
<path d="M517.40 167.82L521.10 171.52L517.40 175.22L513.70 171.52Z"/>
<path d="M517.40 169.33L521.10 173.03L517.40 176.73L513.70 173.03Z"/>
<path d="M517.40 170.28L521.10 173.98L517.40 177.68L513.70 173.98Z"/>
<path d="M517.40 171.51L521.10 175.21L517.40 178.91L513.70 175.21Z"/>
<path d="M517.40 172.13L521.10 175.83L517.40 179.53L513.70 175.83Z"/>
<path d="M517.40 173.23L521.10 176.93L517.40 180.63L513.70 176.93Z"/>
<path d="M517.40 174.45L521.10 178.15L517.40 181.85L513.70 178.15Z"/>
<path d="M517.40 175.34L521.10 179.04L517.40 182.74L513.70 179.04Z"/>
<path d="M517.40 176.36L521.10 180.06L517.40 183.76L513.70 180.06Z"/>
<path d="M517.40 177.79L521.10 181.49L517.40 185.19L513.70 181.49Z"/>
<path d="M517.40 178.54L521.10 182.24L517.40 185.94L513.70 182.24Z"/>
<path d="M517.40 179.59L521.10 183.29L517.40 186.99L513.70 183.29Z"/>
<path d="M517.40 180.28L521.10 183.98L517.40 187.68L513.70 183.98Z"/>
<path d="M517.40 181.26L521.10 184.96L517.40 188.66L513.70 184.96Z"/>
<path d="M517.40 182.74L521.10 186.44L517.40 190.14L513.70 186.44Z"/>
<path d="M517.40 183.96L521.10 187.66L517.40 191.36L513.70 187.66Z"/>
<path d="M517.40 184.59L521.10 188.29L517.40 191.99L513.70 188.29Z"/>
<path d="M517.40 186.04L521.10 189.74L517.40 193.44L513.70 189.74Z"/>
<path d="M517.40 187.30L521.10 191.00L517.40 194.70L513.70 191.00Z"/>
<path d="M517.40 188.42L521.10 192.12L517.40 195.82L513.70 192.12Z"/>
<path d="M517.40 189.31L521.10 193.01L517.40 196.71L513.70 193.01Z"/>
<path d="M517.40 190.21L521.10 193.91L517.40 197.61L513.70 193.91Z"/>
<path d="M517.40 191.00L521.10 194.70L517.40 198.40L513.70 194.70Z"/>
<path d="M517.40 192.22L521.10 195.92L517.40 199.62L513.70 195.92Z"/>
<path d="M517.40 192.87L521.10 196.57L517.40 200.27L513.70 196.57Z"/>
<path d="M517.40 194.41L521.10 198.11L517.40 201.81L513.70 198.11Z"/>
<path d="M517.40 195.12L521.10 198.82L517.40 202.52L513.70 198.82Z"/>
<path d="M517.40 196.34L521.10 200.04L517.40 203.74L513.70 200.04Z"/>
<path d="M517.40 197.52L521.10 201.22L517.40 204.92L513.70 201.22Z"/>
<path d="M517.40 198.48L521.10 202.18L517.40 205.88L513.70 202.18Z"/>
<path d="M517.40 199.36L521.10 203.06L517.40 206.76L513.70 203.06Z"/>
<path d="M517.40 200.39L521.10 204.09L517.40 207.79L513.70 204.09Z"/>
<path d="M517.40 201.32L521.10 205.02L517.40 208.72L513.70 205.02Z"/>
<path d="M517.40 202.30L521.10 206.00L517.40 209.70L513.70 206.00Z"/>
<path d="M552.90 121.60L556.60 125.30L552.90 129.00L549.20 125.30Z"/>
<path d="M552.90 123.80L556.60 127.50L552.90 131.20L549.20 127.50Z"/>
<path d="M552.90 133.90L556.60 137.60L552.90 141.30L549.20 137.60Z"/>
<path d="M552.90 137.07L556.60 140.77L552.90 144.47L549.20 140.77Z"/>
<path d="M552.90 139.14L556.60 142.84L552.90 146.54L549.20 142.84Z"/>
<path d="M552.90 142.01L556.60 145.71L552.90 149.41L549.20 145.71Z"/>
<path d="M552.90 144.59L556.60 148.29L552.90 151.99L549.20 148.29Z"/>
<path d="M552.90 147.72L556.60 151.42L552.90 155.12L549.20 151.42Z"/>
<path d="M552.90 150.21L556.60 153.91L552.90 157.61L549.20 153.91Z"/>
<path d="M552.90 152.30L556.60 156.00L552.90 159.70L549.20 156.00Z"/>
<path d="M552.90 152.30L556.60 156.00L552.90 159.70L549.20 156.00Z"/>
<path d="M552.90 153.06L556.60 156.76L552.90 160.46L549.20 156.76Z"/>
<path d="M552.90 154.65L556.60 158.35L552.90 162.05L549.20 158.35Z"/>
<path d="M552.90 155.67L556.60 159.37L552.90 163.07L549.20 159.37Z"/>
<path d="M552.90 156.45L556.60 160.15L552.90 163.85L549.20 160.15Z"/>
<path d="M552.90 157.40L556.60 161.10L552.90 164.80L549.20 161.10Z"/>
<path d="M552.90 158.63L556.60 162.33L552.90 166.03L549.20 162.33Z"/>
<path d="M552.90 159.26L556.60 162.96L552.90 166.66L549.20 162.96Z"/>
<path d="M552.90 160.25L556.60 163.95L552.90 167.65L549.20 163.95Z"/>
<path d="M552.90 160.86L556.60 164.56L552.90 168.26L549.20 164.56Z"/>
<path d="M552.90 161.53L556.60 165.23L552.90 168.93L549.20 165.23Z"/>
<path d="M552.90 162.30L556.60 166.00L552.90 169.70L549.20 166.00Z"/>
<path d="M552.90 163.13L556.60 166.83L552.90 170.53L549.20 166.83Z"/>
<path d="M552.90 164.00L556.60 167.70L552.90 171.40L549.20 167.70Z"/>
<path d="M552.90 165.38L556.60 169.08L552.90 172.78L549.20 169.08Z"/>
<path d="M552.90 166.40L556.60 170.10L552.90 173.80L549.20 170.10Z"/>
<path d="M552.90 167.86L556.60 171.56L552.90 175.26L549.20 171.56Z"/>
<path d="M552.90 169.35L556.60 173.05L552.90 176.75L549.20 173.05Z"/>
<path d="M552.90 170.85L556.60 174.55L552.90 178.25L549.20 174.55Z"/>
<path d="M552.90 172.40L556.60 176.10L552.90 179.80L549.20 176.10Z"/>
<path d="M552.90 173.57L556.60 177.27L552.90 180.97L549.20 177.27Z"/>
<path d="M552.90 174.84L556.60 178.54L552.90 182.24L549.20 178.54Z"/>
<path d="M552.90 176.33L556.60 180.03L552.90 183.73L549.20 180.03Z"/>
<path d="M552.90 177.47L556.60 181.17L552.90 184.87L549.20 181.17Z"/>
<path d="M552.90 178.21L556.60 181.91L552.90 185.61L549.20 181.91Z"/>
<path d="M552.90 179.33L556.60 183.03L552.90 186.73L549.20 183.03Z"/>
<path d="M552.90 180.46L556.60 184.16L552.90 187.86L549.20 184.16Z"/>
<path d="M552.90 181.24L556.60 184.94L552.90 188.64L549.20 184.94Z"/>
<path d="M552.90 181.93L556.60 185.63L552.90 189.33L549.20 185.63Z"/>
<path d="M552.90 182.72L556.60 186.42L552.90 190.12L549.20 186.42Z"/>
<path d="M552.90 184.02L556.60 187.72L552.90 191.42L549.20 187.72Z"/>
<path d="M552.90 185.43L556.60 189.13L552.90 192.83L549.20 189.13Z"/>
<path d="M552.90 186.69L556.60 190.39L552.90 194.09L549.20 190.39Z"/>
<path d="M552.90 187.71L556.60 191.41L552.90 195.11L549.20 191.41Z"/>
<path d="M552.90 188.34L556.60 192.04L552.90 195.74L549.20 192.04Z"/>
<path d="M552.90 188.94L556.60 192.64L552.90 196.34L549.20 192.64Z"/>
<path d="M552.90 190.20L556.60 193.90L552.90 197.60L549.20 193.90Z"/>
<path d="M552.90 191.33L556.60 195.03L552.90 198.73L549.20 195.03Z"/>
<path d="M552.90 192.39L556.60 196.09L552.90 199.79L549.20 196.09Z"/>
<path d="M552.90 193.16L556.60 196.86L552.90 200.56L549.20 196.86Z"/>
<path d="M552.90 193.88L556.60 197.58L552.90 201.28L549.20 197.58Z"/>
<path d="M552.90 194.66L556.60 198.36L552.90 202.06L549.20 198.36Z"/>
<path d="M552.90 195.39L556.60 199.09L552.90 202.79L549.20 199.09Z"/>
<path d="M552.90 196.59L556.60 200.29L552.90 203.99L549.20 200.29Z"/>
<path d="M552.90 197.50L556.60 201.20L552.90 204.90L549.20 201.20Z"/>
<path d="M552.90 198.30L556.60 202.00L552.90 205.70L549.20 202.00Z"/>
<path d="M588.50 97.80L592.20 101.50L588.50 105.20L584.80 101.50Z"/>
<path d="M588.50 109.10L592.20 112.80L588.50 116.50L584.80 112.80Z"/>
<path d="M588.50 125.30L592.20 129.00L588.50 132.70L584.80 129.00Z"/>
<path d="M588.50 133.50L592.20 137.20L588.50 140.90L584.80 137.20Z"/>
<path d="M588.50 136.70L592.20 140.40L588.50 144.10L584.80 140.40Z"/>
<path d="M588.50 146.50L592.20 150.20L588.50 153.90L584.80 150.20Z"/>
<path d="M588.50 148.77L592.20 152.47L588.50 156.17L584.80 152.47Z"/>
<path d="M588.50 151.89L592.20 155.59L588.50 159.29L584.80 155.59Z"/>
<path d="M588.50 155.02L592.20 158.72L588.50 162.42L584.80 158.72Z"/>
<path d="M588.50 157.05L592.20 160.75L588.50 164.45L584.80 160.75Z"/>
<path d="M588.50 160.07L592.20 163.77L588.50 167.47L584.80 163.77Z"/>
<path d="M588.50 162.92L592.20 166.62L588.50 170.32L584.80 166.62Z"/>
<path d="M588.50 165.74L592.20 169.44L588.50 173.14L584.80 169.44Z"/>
<path d="M588.50 166.30L592.20 170.00L588.50 173.70L584.80 170.00Z"/>
<path d="M588.50 166.30L592.20 170.00L588.50 173.70L584.80 170.00Z"/>
<path d="M588.50 168.29L592.20 171.99L588.50 175.69L584.80 171.99Z"/>
<path d="M588.50 169.75L592.20 173.45L588.50 177.15L584.80 173.45Z"/>
<path d="M588.50 171.72L592.20 175.42L588.50 179.12L584.80 175.42Z"/>
<path d="M588.50 173.36L592.20 177.06L588.50 180.76L584.80 177.06Z"/>
<path d="M588.50 175.27L592.20 178.97L588.50 182.67L584.80 178.97Z"/>
<path d="M588.50 177.15L592.20 180.85L588.50 184.55L584.80 180.85Z"/>
<path d="M588.50 178.55L592.20 182.25L588.50 185.95L584.80 182.25Z"/>
<path d="M588.50 180.36L592.20 184.06L588.50 187.76L584.80 184.06Z"/>
<path d="M588.50 182.52L592.20 186.22L588.50 189.92L584.80 186.22Z"/>
<path d="M588.50 184.59L592.20 188.29L588.50 191.99L584.80 188.29Z"/>
<path d="M588.50 186.68L592.20 190.38L588.50 194.08L584.80 190.38Z"/>
<path d="M588.50 187.80L592.20 191.50L588.50 195.20L584.80 191.50Z"/>
<path d="M588.50 188.30L592.20 192.00L588.50 195.70L584.80 192.00Z"/>
<path d="M624.40 136.90L628.10 140.60L624.40 144.30L620.70 140.60Z"/>
<path d="M624.40 148.20L628.10 151.90L624.40 155.60L620.70 151.90Z"/>
<path d="M624.40 153.90L628.10 157.60L624.40 161.30L620.70 157.60Z"/>
<path d="M624.40 158.10L628.10 161.80L624.40 165.50L620.70 161.80Z"/>
<path d="M624.40 165.30L628.10 169.00L624.40 172.70L620.70 169.00Z"/>
<path d="M624.40 168.00L628.10 171.70L624.40 175.40L620.70 171.70Z"/>
</g>
<polygon points="410.60,196.45 412.13,201.15 417.07,201.15 413.07,204.05 414.60,208.75 410.60,205.85 406.60,208.75 408.13,204.05 404.13,201.15 409.07,201.15" fill="#ef2c32"/>
<text x="410.60" y="218.05" font-size="9" text-anchor="middle" font-weight="normal" fill="#1a1a1a" font-family='"Liberation Sans", sans-serif' >25.77</text>
<polygon points="446.26,200.66 447.79,205.36 452.73,205.36 448.73,208.27 450.26,212.97 446.26,210.06 442.26,212.97 443.79,208.27 439.79,205.36 444.73,205.36" fill="#ef2c32"/>
<text x="446.26" y="222.26" font-size="9" text-anchor="middle" font-weight="normal" fill="#1a1a1a" font-family='"Liberation Sans", sans-serif' >18.96</text>
<polygon points="481.92,203.88 483.45,208.58 488.39,208.58 484.39,211.49 485.92,216.18 481.92,213.28 477.92,216.18 479.45,211.49 475.45,208.58 480.39,208.58" fill="#ef2c32"/>
<text x="481.92" y="225.48" font-size="9" text-anchor="middle" font-weight="normal" fill="#1a1a1a" font-family='"Liberation Sans", sans-serif' >13.76</text>
<polygon points="517.58,203.15 519.11,207.84 524.05,207.84 520.05,210.75 521.58,215.45 517.58,212.54 513.58,215.45 515.11,210.75 511.11,207.84 516.05,207.84" fill="#ef2c32"/>
<text x="517.58" y="224.75" font-size="9" text-anchor="middle" font-weight="normal" fill="#1a1a1a" font-family='"Liberation Sans", sans-serif' >14.95</text>
<polygon points="553.24,198.40 554.77,203.10 559.71,203.10 555.71,206.01 557.24,210.71 553.24,207.80 549.24,210.71 550.77,206.01 546.77,203.10 551.71,203.10" fill="#ef2c32"/>
<text x="553.24" y="220.00" font-size="9" text-anchor="middle" font-weight="normal" fill="#1a1a1a" font-family='"Liberation Sans", sans-serif' >22.61</text>
<polygon points="588.90,193.53 590.43,198.23 595.37,198.23 591.37,201.14 592.90,205.83 588.90,202.93 584.90,205.83 586.43,201.14 582.43,198.23 587.37,198.23" fill="#ef2c32"/>
<text x="588.90" y="215.13" font-size="9" text-anchor="middle" font-weight="normal" fill="#1a1a1a" font-family='"Liberation Sans", sans-serif' >30.48</text>
<polygon points="624.56,182.36 626.09,187.06 631.03,187.06 627.03,189.96 628.56,194.66 624.56,191.76 620.56,194.66 622.09,189.96 618.09,187.06 623.03,187.06" fill="#ef2c32"/>
<text x="624.56" y="203.96" font-size="9" text-anchor="middle" font-weight="normal" fill="#1a1a1a" font-family='"Liberation Sans", sans-serif' >48.53</text>
<polygon points="660.22,163.39 661.75,168.09 666.69,168.09 662.69,170.99 664.22,175.69 660.22,172.79 656.22,175.69 657.75,170.99 653.75,168.09 658.69,168.09" fill="#ef2c32"/>
<text x="660.22" y="184.99" font-size="9" text-anchor="middle" font-weight="normal" fill="#1a1a1a" font-family='"Liberation Sans", sans-serif' >79.18</text>
<ellipse cx="482" cy="213.5" rx="15.6" ry="12.7" fill="none" stroke="#e63838" stroke-width="0.9"/>
<line x1="489.9" y1="202.1" x2="565.5" y2="98.3" stroke="#e63838" stroke-width="0.9"/>
<path d="M569.8 92.4 L562.0 98.6 L566.4 101.7 Z" fill="#f01818"/>
<rect x="573.3" y="54.6" width="87.4" height="38.4" fill="#fff" stroke="#e0a0a8" stroke-width="0.8"/>
<text x="575.0" y="67.6" font-size="12.3" text-anchor="start" font-weight="bold" font-style="italic" font-family='"Liberation Serif", serif' fill="#111" stroke="#111" stroke-width="0.25">ΔH</text>
<text x="593.6" y="71.8" font-size="8.5" text-anchor="start" font-weight="bold" font-style="italic" font-family='"Liberation Serif", serif' fill="#111" stroke="#111" stroke-width="0.25">mix</text>
<text x="611.3" y="67.6" font-size="12.3" text-anchor="middle" font-weight="bold" font-style="italic" font-family='"Liberation Serif", serif' fill="#111" stroke="#111" stroke-width="0.25">+</text>
<text x="622.9" y="67.6" font-size="12.3" text-anchor="middle" font-weight="bold" font-style="italic" font-family='"Liberation Serif", serif' fill="#111" stroke="#111" stroke-width="0.25">Ω</text>
<text x="634.3" y="67.6" font-size="12.3" text-anchor="middle" font-weight="bold" font-style="italic" font-family='"Liberation Serif", serif' fill="#111" stroke="#111" stroke-width="0.25">+</text>
<text x="644.8" y="67.6" font-size="12.3" text-anchor="middle" font-weight="bold" font-style="italic" font-family='"Liberation Serif", serif' fill="#111" stroke="#111" stroke-width="0.25">δ</text>
<text x="648.0" y="72.4" font-size="8.5" text-anchor="start" font-weight="bold" font-style="italic" font-family='"Liberation Serif", serif' fill="#111" stroke="#111" stroke-width="0.25">r</text>
<text x="655.2" y="67.6" font-size="12.3" text-anchor="middle" font-weight="bold" font-style="italic" font-family='"Liberation Serif", serif' fill="#111" stroke="#111" stroke-width="0.25">+</text>
<text x="576.3" y="88.3" font-size="12.3" text-anchor="start" font-weight="bold" font-style="italic" font-family='"Liberation Serif", serif' fill="#111" stroke="#111" stroke-width="0.25">VEC</text>
<text x="608.3" y="88.3" font-size="12.3" text-anchor="middle" font-weight="bold" font-style="italic" font-family='"Liberation Serif", serif' fill="#111" stroke="#111" stroke-width="0.25">+</text>
<text x="618.8" y="88.3" font-size="12.3" text-anchor="middle" font-weight="bold" font-style="italic" font-family='"Liberation Serif", serif' fill="#111" stroke="#111" stroke-width="0.25">Δ</text>
<text x="626.2" y="88.3" font-size="12.3" text-anchor="middle" font-weight="bold" font-style="italic" font-family='"Liberation Serif", serif' fill="#111" stroke="#111" stroke-width="0.25">χ</text>
<text x="630.0" y="82.6" font-size="8.5" text-anchor="start" font-weight="bold" font-style="italic" font-family='"Liberation Serif", serif' fill="#111" stroke="#111" stroke-width="0.25">Pualing</text>
<polygon points="569.70,32.10 571.07,36.31 575.50,36.31 571.92,38.92 573.29,43.14 569.70,40.53 566.11,43.14 567.48,38.92 563.90,36.31 568.33,36.31" fill="#ef2c32"/>
<text x="583.4" y="41.7" font-size="9.6" text-anchor="start" font-weight="bold" fill="#111" stroke="#111" stroke-width="0.3" font-family='"Liberation Sans", sans-serif' >Lowest MAE value</text>
<rect x="392.8" y="27.5" width="285.2" height="203.7" fill="none" stroke="#111" stroke-width="1.3"/>
<line x1="392.8" y1="219.20" x2="396.0" y2="219.20" stroke="#111" stroke-width="1.3"/>
<text x="389.2" y="223.10" font-size="11" text-anchor="end" font-weight="bold" fill="#111" stroke="#111" stroke-width="0.3" font-family='"Liberation Sans", sans-serif' >0</text>
<line x1="392.8" y1="203.72" x2="394.6" y2="203.72" stroke="#111" stroke-width="1.3"/>
<line x1="392.8" y1="188.25" x2="396.0" y2="188.25" stroke="#111" stroke-width="1.3"/>
<text x="389.2" y="192.15" font-size="11" text-anchor="end" font-weight="bold" fill="#111" stroke="#111" stroke-width="0.3" font-family='"Liberation Sans", sans-serif' >50</text>
<line x1="392.8" y1="172.77" x2="394.6" y2="172.77" stroke="#111" stroke-width="1.3"/>
<line x1="392.8" y1="157.30" x2="396.0" y2="157.30" stroke="#111" stroke-width="1.3"/>
<text x="389.2" y="161.20" font-size="11" text-anchor="end" font-weight="bold" fill="#111" stroke="#111" stroke-width="0.3" font-family='"Liberation Sans", sans-serif' >100</text>
<line x1="392.8" y1="141.82" x2="394.6" y2="141.82" stroke="#111" stroke-width="1.3"/>
<line x1="392.8" y1="126.35" x2="396.0" y2="126.35" stroke="#111" stroke-width="1.3"/>
<text x="389.2" y="130.25" font-size="11" text-anchor="end" font-weight="bold" fill="#111" stroke="#111" stroke-width="0.3" font-family='"Liberation Sans", sans-serif' >150</text>
<line x1="392.8" y1="110.87" x2="394.6" y2="110.87" stroke="#111" stroke-width="1.3"/>
<line x1="392.8" y1="95.40" x2="396.0" y2="95.40" stroke="#111" stroke-width="1.3"/>
<text x="389.2" y="99.30" font-size="11" text-anchor="end" font-weight="bold" fill="#111" stroke="#111" stroke-width="0.3" font-family='"Liberation Sans", sans-serif' >200</text>
<line x1="392.8" y1="79.92" x2="394.6" y2="79.92" stroke="#111" stroke-width="1.3"/>
<line x1="392.8" y1="64.45" x2="396.0" y2="64.45" stroke="#111" stroke-width="1.3"/>
<text x="389.2" y="68.35" font-size="11" text-anchor="end" font-weight="bold" fill="#111" stroke="#111" stroke-width="0.3" font-family='"Liberation Sans", sans-serif' >250</text>
<line x1="392.8" y1="48.97" x2="394.6" y2="48.97" stroke="#111" stroke-width="1.3"/>
<line x1="392.8" y1="33.50" x2="396.0" y2="33.50" stroke="#111" stroke-width="1.3"/>
<text x="389.2" y="37.40" font-size="11" text-anchor="end" font-weight="bold" fill="#111" stroke="#111" stroke-width="0.3" font-family='"Liberation Sans", sans-serif' >300</text>
<line x1="410.60" y1="231.2" x2="410.60" y2="228.0" stroke="#111" stroke-width="1.1"/>
<text x="410.60" y="244.2" font-size="11" text-anchor="middle" font-weight="bold" fill="#111" stroke="#111" stroke-width="0.3" font-family='"Liberation Sans", sans-serif' >3</text>
<line x1="428.43" y1="231.2" x2="428.43" y2="229.39999999999998" stroke="#111" stroke-width="1.1"/>
<line x1="446.26" y1="231.2" x2="446.26" y2="228.0" stroke="#111" stroke-width="1.1"/>
<text x="446.26" y="244.2" font-size="11" text-anchor="middle" font-weight="bold" fill="#111" stroke="#111" stroke-width="0.3" font-family='"Liberation Sans", sans-serif' >4</text>
<line x1="464.09" y1="231.2" x2="464.09" y2="229.39999999999998" stroke="#111" stroke-width="1.1"/>
<line x1="481.92" y1="231.2" x2="481.92" y2="228.0" stroke="#111" stroke-width="1.1"/>
<text x="481.92" y="244.2" font-size="11" text-anchor="middle" font-weight="bold" fill="#111" stroke="#111" stroke-width="0.3" font-family='"Liberation Sans", sans-serif' >5</text>
<line x1="499.75" y1="231.2" x2="499.75" y2="229.39999999999998" stroke="#111" stroke-width="1.1"/>
<line x1="517.58" y1="231.2" x2="517.58" y2="228.0" stroke="#111" stroke-width="1.1"/>
<text x="517.58" y="244.2" font-size="11" text-anchor="middle" font-weight="bold" fill="#111" stroke="#111" stroke-width="0.3" font-family='"Liberation Sans", sans-serif' >6</text>
<line x1="535.41" y1="231.2" x2="535.41" y2="229.39999999999998" stroke="#111" stroke-width="1.1"/>
<line x1="553.24" y1="231.2" x2="553.24" y2="228.0" stroke="#111" stroke-width="1.1"/>
<text x="553.24" y="244.2" font-size="11" text-anchor="middle" font-weight="bold" fill="#111" stroke="#111" stroke-width="0.3" font-family='"Liberation Sans", sans-serif' >7</text>
<line x1="571.07" y1="231.2" x2="571.07" y2="229.39999999999998" stroke="#111" stroke-width="1.1"/>
<line x1="588.90" y1="231.2" x2="588.90" y2="228.0" stroke="#111" stroke-width="1.1"/>
<text x="588.90" y="244.2" font-size="11" text-anchor="middle" font-weight="bold" fill="#111" stroke="#111" stroke-width="0.3" font-family='"Liberation Sans", sans-serif' >8</text>
<line x1="606.73" y1="231.2" x2="606.73" y2="229.39999999999998" stroke="#111" stroke-width="1.1"/>
<line x1="624.56" y1="231.2" x2="624.56" y2="228.0" stroke="#111" stroke-width="1.1"/>
<text x="624.56" y="244.2" font-size="11" text-anchor="middle" font-weight="bold" fill="#111" stroke="#111" stroke-width="0.3" font-family='"Liberation Sans", sans-serif' >9</text>
<line x1="642.39" y1="231.2" x2="642.39" y2="229.39999999999998" stroke="#111" stroke-width="1.1"/>
<line x1="660.22" y1="231.2" x2="660.22" y2="228.0" stroke="#111" stroke-width="1.1"/>
<text x="660.22" y="244.2" font-size="11" text-anchor="middle" font-weight="bold" fill="#111" stroke="#111" stroke-width="0.3" font-family='"Liberation Sans", sans-serif' >10</text>
<text x="535.4" y="259.7" font-size="12" text-anchor="middle" font-weight="bold" fill="#111" stroke="#111" stroke-width="0.3" font-family='"Liberation Sans", sans-serif' >Number of feature</text>
<text x="0" y="0" font-size="11.7" text-anchor="middle" font-weight="bold" fill="#111" stroke="#111" stroke-width="0.3" font-family='"Liberation Sans", sans-serif' transform="translate(366.3,129.6) rotate(-90)">Testing MAE value (Hv)</text>
<text x="351.1" y="283.5" font-size="19" text-anchor="start" font-weight="bold" fill="#000" stroke="#000" stroke-width="0.3" font-family='"Liberation Sans", sans-serif' >(d)</text>
<rect x="396.0" y="300.4" width="253.79999999999995" height="205.60000000000002" fill="url(#gd)"/>
<line x1="508.6" y1="300.4" x2="508.6" y2="506.0" stroke="#c2c2c2" stroke-width="1.4"/>
<circle cx="408.1" cy="330.1" r="2.45" fill="#3d8cf5"/>
<circle cx="420.1" cy="330.1" r="2.45" fill="#3d8cf5"/>
<circle cx="440" cy="330.1" r="2.45" fill="#3d84f5"/>
<circle cx="445" cy="330.1" r="2.45" fill="#3d84f5"/>
<circle cx="450.1" cy="330.1" r="2.45" fill="#3d84f5"/>
<circle cx="458" cy="330.1" r="2.45" fill="#3d84f5"/>
<circle cx="460.1" cy="330.1" r="2.45" fill="#3d84f5"/>
<circle cx="459.9" cy="323.8" r="2.45" fill="#3d84f5"/>
<circle cx="467.5" cy="330.1" r="2.45" fill="#4470f0"/>
<circle cx="485.2" cy="330.1" r="2.45" fill="#7c45d6"/>
<circle cx="491.4" cy="330.1" r="2.45" fill="#7c45d6"/>
<circle cx="495.2" cy="330.1" r="2.45" fill="#7c45d6"/>
<circle cx="509.9" cy="330.1" r="2.45" fill="#9a3cc6"/>
<circle cx="527.6" cy="330.1" r="2.45" fill="#b030c0"/>
<circle cx="539.9" cy="330.1" r="2.45" fill="#b830b8"/>
<circle cx="552.6" cy="330.1" r="2.45" fill="#c030b0"/>
<circle cx="568.4" cy="330.1" r="2.45" fill="#d0309a"/>
<circle cx="572.6" cy="330.1" r="2.45" fill="#d83090"/>
<circle cx="594" cy="330.1" r="2.45" fill="#e02870"/>
<circle cx="600.1" cy="330.1" r="2.45" fill="#e82860"/>
<circle cx="612.6" cy="330.1" r="2.45" fill="#f0245a"/>
<circle cx="633.9" cy="330.1" r="2.45" fill="#f0245a"/>
<circle cx="451" cy="365.2" r="2.45" fill="#f0245a"/>
<circle cx="455.8" cy="365.2" r="2.45" fill="#f0245a"/>
<circle cx="461.8" cy="365.2" r="2.45" fill="#f0245a"/>
<circle cx="467.5" cy="365.2" r="2.45" fill="#f0245a"/>
<circle cx="473.8" cy="365.2" r="2.45" fill="#f0245a"/>
<circle cx="476.6" cy="365.2" r="2.45" fill="#f0245a"/>
<circle cx="479.5" cy="365.2" r="2.45" fill="#f0245a"/>
<circle cx="482.3" cy="365.2" r="2.45" fill="#f0245a"/>
<circle cx="487.1" cy="365.2" r="2.45" fill="#e42868"/>
<circle cx="493.7" cy="365.2" r="2.45" fill="#d030a0"/>
<circle cx="451" cy="358.5" r="2.45" fill="#f0245a"/>
<circle cx="462" cy="358.5" r="2.45" fill="#f0245a"/>
<circle cx="478" cy="358.5" r="2.45" fill="#e42868"/>
<circle cx="510.8" cy="365.2" r="2.45" fill="#a030c0"/>
<circle cx="519" cy="365.2" r="2.45" fill="#a030c0"/>
<circle cx="566" cy="365.3" r="2.45" fill="#3d6ef5"/>
<circle cx="574.6" cy="365.3" r="2.45" fill="#4060f0"/>
<circle cx="575.2" cy="365.3" r="2.45" fill="#4060f0"/>
<circle cx="581" cy="365.3" r="2.45" fill="#3d8cf5"/>
<circle cx="624" cy="365.2" r="2.45" fill="#3d8cf5"/>
<circle cx="642.4" cy="365.2" r="2.45" fill="#3d8cf5"/>
<circle cx="439.6" cy="400.2" r="2.45" fill="#3d8cf5"/>
<circle cx="447.8" cy="400.2" r="2.45" fill="#3d8cf5"/>
<circle cx="452.9" cy="400.2" r="2.45" fill="#5060e8"/>
<circle cx="481" cy="400.2" r="2.45" fill="#7c45d6"/>
<circle cx="486.7" cy="400.2" r="2.45" fill="#7c45d6"/>
<circle cx="497.5" cy="400.2" r="2.45" fill="#a030c0"/>
<circle cx="500.4" cy="400.2" r="2.45" fill="#a030c0"/>
<circle cx="499.4" cy="393.9" r="2.45" fill="#a030c0"/>
<circle cx="509.9" cy="400.2" r="2.45" fill="#c030b0"/>
<circle cx="517.5" cy="400.2" r="2.45" fill="#e0286e"/>
<circle cx="521.3" cy="400.2" r="2.45" fill="#e0286e"/>
<circle cx="524.7" cy="400.2" r="2.45" fill="#e0286e"/>
<circle cx="528.1" cy="400.2" r="2.45" fill="#e0286e"/>
<circle cx="531.3" cy="400.2" r="2.45" fill="#e0286e"/>
<circle cx="534.5" cy="400.2" r="2.45" fill="#f0245a"/>
<circle cx="538.5" cy="400.2" r="2.45" fill="#f0245a"/>
<circle cx="542.7" cy="400.2" r="2.45" fill="#f0245a"/>
<circle cx="530.4" cy="393.9" r="2.45" fill="#e0286e"/>
<circle cx="534.2" cy="393.9" r="2.45" fill="#e0286e"/>
<circle cx="479.1" cy="435.6" r="2.45" fill="#3d8cf5"/>
<circle cx="488.1" cy="435.6" r="2.45" fill="#3d8cf5"/>
<circle cx="494.5" cy="435.6" r="2.45" fill="#3d8cf5"/>
<circle cx="498.9" cy="435.6" r="2.45" fill="#6a48e0"/>
<circle cx="502.8" cy="435.6" r="2.45" fill="#7a44d8"/>
<circle cx="498.9" cy="427.3" r="2.45" fill="#6a48e0"/>
<circle cx="498.9" cy="431.5" r="2.45" fill="#6a48e0"/>
<circle cx="498.9" cy="439.9" r="2.45" fill="#6a48e0"/>
<circle cx="498.9" cy="444.1" r="2.45" fill="#6a48e0"/>
<circle cx="535.2" cy="431.1" r="2.45" fill="#e0286e"/>
<circle cx="535.2" cy="435.4" r="2.45" fill="#e0286e"/>
<circle cx="542.5" cy="435.4" r="2.45" fill="#f0245a"/>
<circle cx="547.3" cy="435.4" r="2.45" fill="#f0245a"/>
<circle cx="549.3" cy="435.4" r="2.45" fill="#f0245a"/>
<circle cx="505" cy="462" r="2.45" fill="#3d8cf5"/>
<circle cx="499.2" cy="466.4" r="2.45" fill="#3d8cf5"/>
<circle cx="505" cy="466.4" r="2.45" fill="#3d8cf5"/>
<circle cx="496.3" cy="470.6" r="2.45" fill="#3d8cf5"/>
<circle cx="499.9" cy="470.6" r="2.45" fill="#3d8cf5"/>
<circle cx="502.8" cy="470.6" r="2.45" fill="#3d8cf5"/>
<circle cx="506.5" cy="470.6" r="2.45" fill="#3d8cf5"/>
<circle cx="508.2" cy="470.6" r="2.45" fill="#3d8cf5"/>
<circle cx="499.9" cy="474.7" r="2.45" fill="#3d8cf5"/>
<circle cx="505" cy="474.7" r="2.45" fill="#3d8cf5"/>
<circle cx="513.1" cy="466.4" r="2.45" fill="#6a48e0"/>
<circle cx="513.1" cy="470.6" r="2.45" fill="#6a48e0"/>
<circle cx="529.9" cy="470.6" r="2.45" fill="#b030c0"/>
<circle cx="545.9" cy="470.6" r="2.45" fill="#f0245a"/>
<circle cx="554.7" cy="470.6" r="2.45" fill="#f0245a"/>
<rect x="396.0" y="300.4" width="253.79999999999995" height="205.60000000000002" fill="none" stroke="#222" stroke-width="1.5"/>
<line x1="393.0" y1="330.1" x2="396.0" y2="330.1" stroke="#333" stroke-width="1"/>
<line x1="393.0" y1="365.3" x2="396.0" y2="365.3" stroke="#333" stroke-width="1"/>
<line x1="393.0" y1="400.3" x2="396.0" y2="400.3" stroke="#333" stroke-width="1"/>
<line x1="393.0" y1="435.5" x2="396.0" y2="435.5" stroke="#333" stroke-width="1"/>
<line x1="393.0" y1="470.6" x2="396.0" y2="470.6" stroke="#333" stroke-width="1"/>
<text x="366.8" y="332.8" font-size="11" text-anchor="start" font-weight="bold" fill="#ee1c1c" stroke="#ee1c1c" stroke-width="0.3" font-family='"Liberation Sans", sans-serif' letter-spacing="0.8">VEC</text>
<text x="363.0" y="367.7" font-size="11.1" text-anchor="start" font-weight="bold" fill="#ee1c1c" stroke="#ee1c1c" stroke-width="0.3" font-family='"Liberation Sans", sans-serif' letter-spacing="0.7">ΔH</text>
<text x="380.1" y="369.9" font-size="6.2" text-anchor="start" font-weight="bold" fill="#ee1c1c" stroke="#ee1c1c" stroke-width="0.3" font-family='"Liberation Sans", sans-serif' letter-spacing="0.8">mix</text>
<text x="380.6" y="399.8" font-size="9.8" text-anchor="start" font-weight="bold" fill="#111" stroke="#111" stroke-width="0.3" font-family='"Liberation Sans", sans-serif' >δ</text>
<text x="387.0" y="405.2" font-size="6" text-anchor="start" font-weight="bold" fill="#111" stroke="#111" stroke-width="0.3" font-family='"Liberation Sans", sans-serif' >r</text>
<text x="354.5" y="439" font-size="10.5" text-anchor="start" font-weight="bold" fill="#111" stroke="#111" stroke-width="0.3" font-family='"Liberation Sans", sans-serif' >Δχ</text>
<text x="368.9" y="434.2" font-size="5.5" text-anchor="start" font-weight="bold" fill="#222" stroke="#222" stroke-width="0.3" font-family='"Liberation Sans", sans-serif' letter-spacing="0.4">Pauling</text>
<text x="388.2" y="474.1" font-size="10.4" text-anchor="end" font-weight="bold" fill="#111" stroke="#111" stroke-width="0.3" font-family='"Liberation Sans", sans-serif' >Ω</text>
<line x1="401.30" y1="506.0" x2="401.30" y2="509.8" stroke="#666" stroke-width="1"/>
<text x="401.70" y="520.6" font-size="11" text-anchor="middle" font-weight="bold" fill="#111" stroke="#111" stroke-width="0.3" font-family='"Liberation Sans", sans-serif' >-100</text>
<line x1="454.90" y1="506.0" x2="454.90" y2="509.8" stroke="#666" stroke-width="1"/>
<text x="455.70" y="520.6" font-size="11" text-anchor="middle" font-weight="bold" fill="#111" stroke="#111" stroke-width="0.3" font-family='"Liberation Sans", sans-serif' >-50</text>
<line x1="508.50" y1="506.0" x2="508.50" y2="509.8" stroke="#666" stroke-width="1"/>
<text x="508.70" y="520.6" font-size="11" text-anchor="middle" font-weight="bold" fill="#111" stroke="#111" stroke-width="0.3" font-family='"Liberation Sans", sans-serif' >0</text>
<line x1="562.10" y1="506.0" x2="562.10" y2="509.8" stroke="#666" stroke-width="1"/>
<text x="563.40" y="520.6" font-size="11" text-anchor="middle" font-weight="bold" fill="#111" stroke="#111" stroke-width="0.3" font-family='"Liberation Sans", sans-serif' >50</text>
<line x1="615.70" y1="506.0" x2="615.70" y2="509.8" stroke="#666" stroke-width="1"/>
<text x="617.70" y="520.6" font-size="11" text-anchor="middle" font-weight="bold" fill="#111" stroke="#111" stroke-width="0.3" font-family='"Liberation Sans", sans-serif' >100</text>
<text x="529.3" y="538.1" font-size="12.8" text-anchor="middle" font-weight="bold" fill="#111" stroke="#111" stroke-width="0.3" font-family='"Liberation Sans", sans-serif' letter-spacing="0.52">SHAP value (impact on hardness)</text>
<rect x="656.8" y="300.2" width="4.6" height="206.8" fill="url(#cb)"/>
<text x="664" y="305.8" font-size="8.5" text-anchor="start" font-weight="bold" fill="#333" stroke="#333" stroke-width="0.15" font-family='"Liberation Sans", sans-serif' letter-spacing="0.45">High</text>
<text x="665" y="507" font-size="8.5" text-anchor="start" font-weight="bold" fill="#333" stroke="#333" stroke-width="0.15" font-family='"Liberation Sans", sans-serif' letter-spacing="0.4">Low</text>
<text x="0" y="0" font-size="9" text-anchor="middle" font-weight="bold" fill="#333" stroke="#333" stroke-width="0.15" font-family='"Liberation Sans", sans-serif' letter-spacing="1.05" transform="translate(675.6,394.5) rotate(-90)">Feature value</text>
</svg>
</body></html>
